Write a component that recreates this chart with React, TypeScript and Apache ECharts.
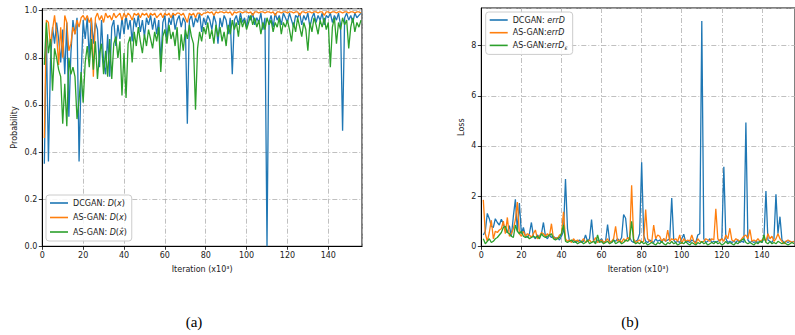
import React, { useEffect, useRef } from "react";
import * as echarts from "echarts";

// Iterations (x10^3), one sample per 1k iterations
const iterations: number[] = Array.from({ length: 156 }, (_, i) => i + 1);

// (a) Probability
const dcganDx: number[] = [
  0.35, 0.90, 0.36, 0.78, 0.93, 0.86, 0.95, 0.88, 0.78, 0.92,
  0.73, 0.95, 0.55, 0.82, 0.96, 0.90, 0.97, 0.36, 0.72, 0.96,
  0.88, 0.97, 0.80, 0.97, 0.86, 0.95, 0.92, 0.76, 0.96, 0.78,
  0.73, 0.90, 0.72, 0.93, 0.96, 0.85, 0.94, 0.88, 0.97, 0.90,
  0.98, 0.92, 0.96, 0.87, 0.97, 0.93, 0.98, 0.91, 0.96, 0.89,
  0.97, 0.94, 0.98, 0.92, 0.97, 0.90, 0.96, 0.78, 0.95, 0.98,
  0.88, 0.97, 0.94, 0.99, 0.92, 0.96, 0.98, 0.93, 0.97, 0.95,
  0.52, 0.96, 0.98, 0.93, 0.97, 0.95, 0.99, 0.91, 0.97, 0.94,
  0.98, 0.96, 0.92, 0.98, 0.95, 0.86, 0.97, 0.93, 0.98, 0.96,
  0.90, 0.97, 0.73, 0.96, 0.98, 0.94, 0.99, 0.95, 0.97, 0.93,
  0.98, 0.96, 0.99, 0.94, 0.97, 0.95, 0.99, 0.92, 0.97, 0.00,
  0.95, 0.98, 0.93, 0.99, 0.96, 0.98, 0.94, 0.99, 0.97, 0.95,
  0.99, 0.96, 0.93, 0.98, 0.97, 0.99, 0.94, 0.98, 0.96, 0.99,
  0.93, 0.97, 0.99, 0.95, 0.98, 0.96, 0.99, 0.94, 0.98, 0.97,
  0.99, 0.95, 0.98, 0.96, 0.99, 0.94, 0.49, 0.97, 0.99, 0.96,
  0.98, 0.95, 0.99, 0.97, 0.98, 0.99,
];

const asganDx: number[] = [
  0.46, 0.96, 0.95, 0.85, 0.92, 0.98, 0.90, 0.77, 0.93, 0.80,
  0.98, 0.95, 0.83, 0.86, 0.93, 0.90, 0.96, 0.93, 0.97, 0.98,
  0.96, 0.98, 0.95, 0.97, 0.72, 0.97, 0.99, 0.96, 0.98, 0.95,
  0.99, 0.97, 0.98, 0.96, 0.99, 0.97, 0.98, 0.99, 0.96, 0.99,
  0.97, 0.99, 0.98, 0.96, 0.99, 0.98, 0.99, 0.97, 0.99, 0.98,
  0.99, 0.97, 0.99, 0.98, 0.99, 0.97, 0.98, 0.99, 0.97, 0.99,
  0.98, 0.99, 0.97, 0.99, 0.98, 0.99, 0.99, 0.98, 0.99, 0.97,
  0.95, 0.99, 0.98, 0.99, 0.97, 0.99, 0.99, 0.98, 0.99, 0.99,
  0.995, 0.99, 0.995, 0.98, 0.995, 0.99, 0.995, 0.995, 0.99, 0.995,
  0.99, 0.995, 0.98, 0.995, 0.99, 0.995, 0.995, 0.99, 0.995, 0.995,
  0.99, 0.995, 0.98, 0.995, 0.995, 0.99, 0.995, 0.995, 0.99, 0.995,
  0.995, 0.99, 0.995, 0.98, 0.995, 0.995, 0.99, 0.995, 0.995, 0.99,
  0.995, 0.995, 0.99, 0.995, 0.995, 0.98, 0.995, 0.995, 0.99, 0.995,
  0.995, 0.99, 0.995, 0.995, 0.99, 0.995, 0.995, 0.98, 0.995, 0.995,
  0.99, 0.995, 0.995, 0.99, 0.995, 0.995, 0.99, 0.995, 0.995, 0.99,
  0.995, 0.995, 0.99, 0.995, 0.995, 0.99,
];

const asganDxHat: number[] = [
  0.77, 0.95, 0.82, 0.88, 0.66, 0.84, 0.80, 0.75, 0.72, 0.52,
  0.69, 0.51, 0.80, 0.73, 0.76, 0.72, 0.54, 0.62, 0.74, 0.61,
  0.78, 0.85, 0.76, 0.88, 0.75, 0.87, 0.71, 0.82, 0.86, 0.73,
  0.83, 0.72, 0.88, 0.71, 0.86, 0.89, 0.80, 0.87, 0.64, 0.82,
  0.63, 0.86, 0.89, 0.78, 0.91, 0.85, 0.93, 0.87, 0.82, 0.90,
  0.85, 0.92, 0.88, 0.84, 0.91, 0.87, 0.93, 0.74, 0.89, 0.92,
  0.86, 0.94, 0.88, 0.91, 0.85, 0.93, 0.79, 0.90, 0.83, 0.92,
  0.88, 0.94, 0.89, 0.86, 0.58, 0.84, 0.91, 0.87, 0.93, 0.90,
  0.95, 0.88, 0.92, 0.86, 0.94, 0.89, 0.93, 0.87, 0.91, 0.85,
  0.94, 0.90, 0.96, 0.92, 0.95, 0.89, 0.97, 0.93, 0.96, 0.92,
  0.95, 0.98, 0.94, 0.97, 0.93, 0.96, 0.90, 0.95, 0.92, 0.97,
  0.94, 0.96, 0.91, 0.95, 0.93, 0.97, 0.90, 0.95, 0.93, 0.96,
  0.92, 0.87, 0.95, 0.91, 0.97, 0.93, 0.89, 0.95, 0.92, 0.83,
  0.95, 0.91, 0.97, 0.94, 0.90, 0.96, 0.93, 0.97, 0.92, 0.95,
  0.76, 0.93, 0.97, 0.86, 0.95, 0.92, 0.97, 0.94, 0.96, 0.84,
  0.93, 0.97, 0.91, 0.95, 0.93, 0.96,
];

// (b) Loss
const dcganErrD: number[] = [
  0.45, 0.6, 1.31, 1.1, 0.8, 0.75, 1.1, 0.95, 0.85, 1.08,
  0.9, 0.6, 0.55, 0.82, 0.4, 1.2, 1.87, 0.6, 1.72, 0.5,
  0.75, 0.4, 0.35, 0.5, 0.95, 0.4, 0.3, 0.45, 0.35, 0.5,
  0.95, 0.4, 0.3, 0.45, 0.35, 0.4, 0.3, 0.35, 0.25, 0.4,
  0.6, 2.68, 0.7, 0.2, 0.2, 0.25, 0.15, 0.2, 0.25, 0.15,
  0.2, 0.45, 0.2, 0.3, 1.07, 0.2, 0.15, 0.25, 0.2, 0.3,
  0.15, 0.2, 0.87, 0.2, 0.15, 0.25, 0.2, 0.3, 0.2, 0.35,
  1.27, 1.12, 0.3, 0.35, 0.2, 0.15, 0.2, 0.25, 0.5, 3.35,
  0.45, 0.2, 0.15, 0.25, 0.2, 0.15, 0.3, 0.2, 0.25, 0.15,
  0.3, 0.2, 0.25, 0.3, 1.92, 0.25, 0.15, 0.2, 0.15, 0.3,
  0.48, 0.15, 0.2, 0.15, 0.25, 0.2, 0.15, 0.45, 0.5, 8.98,
  0.3, 0.15, 0.2, 0.3, 0.15, 0.2, 0.15, 0.2, 0.25, 0.3,
  3.17, 0.3, 0.15, 0.2, 0.15, 0.2, 0.15, 0.25, 0.15, 0.2,
  0.15, 4.93, 0.25, 0.15, 0.2, 0.15, 0.2, 0.15, 0.2, 0.15,
  0.3, 2.2, 0.25, 0.2, 0.15, 0.3, 2.07, 0.5, 1.18, 0.25,
  0.15, 0.2, 0.15, 0.2, 0.15, 0.2,
];

const asganErrD: number[] = [
  1.85, 0.5, 0.2, 0.55, 1.04, 0.3, 0.6, 0.55, 0.65, 0.7,
  1.0, 0.5, 1.15, 0.4, 0.5, 0.7, 1.05, 1.76, 0.5, 0.4,
  0.6, 0.4, 0.5, 0.45, 0.35, 0.5, 0.65, 0.3, 0.4, 0.55,
  0.5, 0.4, 0.5, 0.4, 0.9, 0.3, 0.35, 0.3, 0.45, 0.5,
  1.38, 0.3, 0.2, 0.25, 0.15, 0.3, 0.2, 0.25, 0.15, 0.2,
  0.3, 0.15, 0.2, 0.25, 0.15, 0.2, 0.35, 0.15, 0.2, 0.25,
  0.15, 0.2, 0.3, 0.15, 0.2, 0.3, 0.8, 0.2, 0.25, 0.15,
  0.3, 0.2, 0.35, 0.25, 2.43, 0.3, 0.15, 0.2, 0.25, 0.15,
  0.2, 1.47, 0.3, 0.2, 0.15, 0.85, 0.3, 0.45, 0.4, 0.2,
  0.3, 0.2, 0.65, 0.2, 0.3, 0.25, 0.3, 0.2, 0.45, 0.1,
  0.3, 0.2, 0.25, 0.2, 0.45, 0.2, 0.1, 0.3, 0.2, 0.15,
  0.2, 0.3, 0.25, 0.2, 0.3, 0.25, 1.5, 0.3, 0.2, 0.3,
  0.2, 0.45, 0.3, 0.72, 0.25, 0.2, 0.3, 0.25, 0.2, 0.3,
  0.4, 0.45, 0.3, 0.67, 0.2, 0.25, 0.2, 0.3, 0.2, 0.25,
  0.3, 0.2, 0.5, 0.3, 0.4, 0.2, 0.3, 0.5, 0.3, 0.2,
  0.1, 0.2, 0.25, 0.2, 0.15, 0.2,
];

const asganErrDEps: number[] = [
  0.3, 0.1, 0.2, 0.3, 0.15, 0.2, 0.3, 0.35, 0.45, 0.55,
  0.75, 0.8, 0.55, 0.5, 0.4, 0.35, 0.85, 0.6, 0.5, 0.6,
  0.4, 0.35, 0.4, 0.3, 0.35, 0.4, 0.35, 0.4, 0.3, 0.5,
  0.4, 0.35, 0.4, 0.45, 0.5, 0.3, 0.25, 0.3, 0.35, 0.5,
  0.85, 0.2, 0.15, 0.2, 0.25, 0.15, 0.2, 0.1, 0.15, 0.2,
  0.1, 0.15, 0.25, 0.1, 0.15, 0.2, 0.1, 0.45, 0.15, 0.2,
  0.1, 0.15, 0.2, 0.1, 0.15, 0.25, 0.1, 0.15, 0.2, 0.1,
  0.15, 0.25, 0.2, 0.3, 1.0, 0.2, 0.1, 0.15, 0.1, 0.2,
  0.1, 0.15, 0.05, 0.1, 0.15, 0.1, 0.05, 0.15, 0.1, 0.2,
  0.1, 0.05, 0.15, 0.1, 0.2, 0.1, 0.15, 0.05, 0.1, 0.15,
  0.1, 0.2, 0.1, 0.05, 0.15, 0.1, 0.05, 0.15, 0.1, 0.2,
  0.1, 0.15, 0.05, 0.1, 0.15, 0.1, 0.2, 0.1, 0.15, 0.05,
  0.1, 0.2, 0.1, 0.15, 0.1, 0.05, 0.15, 0.1, 0.2, 0.25,
  0.3, 0.15, 0.1, 0.15, 0.1, 0.05, 0.15, 0.1, 0.2, 0.15,
  0.45, 0.15, 0.1, 0.2, 0.1, 0.15, 0.1, 0.2, 0.15, 0.1,
  0.15, 0.1, 0.05, 0.1, 0.15, 0.1,
];

const xTickValues = [0, 20, 40, 60, 80, 100, 120, 140];

const seriesNamesA = ["DCGAN: D(x)", "AS-GAN: D(x)", "AS-GAN: D(x̂)"];
const seriesNamesB = ["DCGAN: errD", "AS-GAN:errD", "AS-GAN:errDε"];

const BLUE = "#1f77b4";
const ORANGE = "#ff7f0e";
const GREEN = "#2ca02c";
const FONT = "DejaVu Sans";

const toPairs = (vals: number[]) => vals.map((v, i) => [iterations[i], v]);

export default function App() {
  const ref = useRef<HTMLDivElement>(null);

  useEffect(() => {
    document.body.style.margin = "0";
    if (!ref.current) return;
    const chart = echarts.init(ref.current, undefined, { renderer: "svg" });

    const gridLine = {
      show: true,
      lineStyle: { color: "#b0b0b0", width: 0.8, type: [5, 2, 1, 2] as any },
    };
    const axisCommon = {
      axisLine: { show: true, onZero: false, lineStyle: { color: "#000", width: 1 } },
      axisTick: { show: true, inside: false, length: 3.5, lineStyle: { color: "#000", width: 0.8 } },
      splitLine: gridLine,
      nameTextStyle: { fontFamily: FONT, fontSize: 8, color: "#222" },
    };
    const xAxisFor = (gridIndex: number) => ({
      type: "value",
      gridIndex,
      min: 0,
      max: 156.5,
      interval: 20,
      name: "Iteration (x10³)",
      nameLocation: "middle",
      nameGap: 19,
      ...axisCommon,
      axisLabel: {
        fontFamily: FONT,
        fontSize: 8,
        color: "#222",
        margin: 5,
        showMaxLabel: false,
        formatter: (v: number) => (xTickValues.includes(v) ? String(v) : ""),
      },
    });

    const lineSeries = (name: string, vals: number[], color: string, idx: number) => ({
      type: "line",
      name,
      xAxisIndex: idx,
      yAxisIndex: idx,
      data: toPairs(vals),
      symbol: "none",
      showSymbol: false,
      clip: true,
      lineStyle: { width: 1.3, color },
      itemStyle: { color },
    });

    const legendBase = {
      orient: "vertical",
      icon: "rect",
      backgroundColor: "rgba(255,255,255,0.85)",
      borderColor: "#cccccc",
      borderWidth: 1,
      borderRadius: 3,
      itemWidth: 18,
      itemHeight: 1.6,
      textStyle: {
        fontFamily: FONT,
        fontSize: 8,
        color: "#222",
        lineHeight: 10,
        rich: {
          n: { fontFamily: FONT, fontSize: 8, color: "#222", lineHeight: 10 },
          i: { fontFamily: FONT, fontSize: 8, fontStyle: "italic", color: "#222", lineHeight: 10 },
          s: { fontFamily: FONT, fontSize: 6, fontStyle: "italic", color: "#222", padding: [4, 0, 0, 0], lineHeight: 10 },
        },
      },
    };

    const legendLabelA: Record<string, string> = {
      [seriesNamesA[0]]: "{n|DCGAN: }{i|D}{n|(}{i|x}{n|)}",
      [seriesNamesA[1]]: "{n|AS-GAN: }{i|D}{n|(}{i|x}{n|)}",
      [seriesNamesA[2]]: "{n|AS-GAN: }{i|D}{n|(}{i|x̂}{n|)}",
    };
    const legendLabelB: Record<string, string> = {
      [seriesNamesB[0]]: "{n|DCGAN: }{i|errD}",
      [seriesNamesB[1]]: "{n|AS-GAN:}{i|errD}",
      [seriesNamesB[2]]: "{n|AS-GAN:}{i|errD}{s|ε}",
    };

    chart.setOption({
      animation: false,
      grid: [
        { left: 42.3, top: 8.7, width: 319.7, height: 237.6, show: true, borderColor: "#000", borderWidth: 1, backgroundColor: "transparent" },
        { left: 481.3, top: 8, width: 319.7, height: 238.3, show: true, borderColor: "#000", borderWidth: 1, backgroundColor: "transparent" },
      ],
      xAxis: [xAxisFor(0), xAxisFor(1)],
      yAxis: [
        {
          type: "value",
          gridIndex: 0,
          min: 0,
          max: 1.0085,
          interval: 0.2,
          name: "Probability",
          nameLocation: "middle",
          nameGap: 24,
          ...axisCommon,
          axisLabel: {
            fontFamily: FONT,
            fontSize: 8,
            color: "#222",
            margin: 5,
            showMaxLabel: false,
            formatter: (v: number) => v.toFixed(1),
          },
        },
        {
          type: "value",
          gridIndex: 1,
          min: 0,
          max: 9.5,
          interval: 2,
          name: "Loss",
          nameLocation: "middle",
          nameGap: 16,
          ...axisCommon,
          axisLabel: {
            fontFamily: FONT,
            fontSize: 8,
            color: "#222",
            margin: 5,
            showMaxLabel: false,
            formatter: (v: number) => String(v),
          },
        },
      ],
      legend: [
        {
          ...legendBase,
          left: 46,
          top: 195,
          padding: [3, 5, 4, 4],
          itemGap: 4.5,
          data: seriesNamesA,
          formatter: (name: string) => legendLabelA[name] || name,
        },
        {
          ...legendBase,
          left: 485.7,
          top: 12,
          padding: [3, 5, 4, 4],
          itemGap: 2.7,
          data: seriesNamesB,
          formatter: (name: string) => legendLabelB[name] || name,
        },
      ],
      series: [
        lineSeries(seriesNamesA[0], dcganDx, BLUE, 0),
        lineSeries(seriesNamesA[1], asganDx, ORANGE, 0),
        lineSeries(seriesNamesA[2], asganDxHat, GREEN, 0),
        lineSeries(seriesNamesB[0], dcganErrD, BLUE, 1),
        lineSeries(seriesNamesB[1], asganErrD, ORANGE, 1),
        lineSeries(seriesNamesB[2], asganErrDEps, GREEN, 1),
      ],
      graphic: [
        {
          type: "text",
          x: 194,
          y: 322,
          style: { text: "(a)", font: '15px "Liberation Serif", "DejaVu Serif", serif', fill: "#000", align: "center", verticalAlign: "middle" },
        },
        {
          type: "text",
          x: 630,
          y: 322,
          style: { text: "(b)", font: '15px "Liberation Serif", "DejaVu Serif", serif', fill: "#000", align: "center", verticalAlign: "middle" },
        },
      ],
    });

    return () => chart.dispose();
  }, []);

  return (
    <div
      ref={ref}
      style={{ width: 795, height: 335, position: "fixed", left: 0, top: 0, background: "#fff" }}
    />
  );
}
